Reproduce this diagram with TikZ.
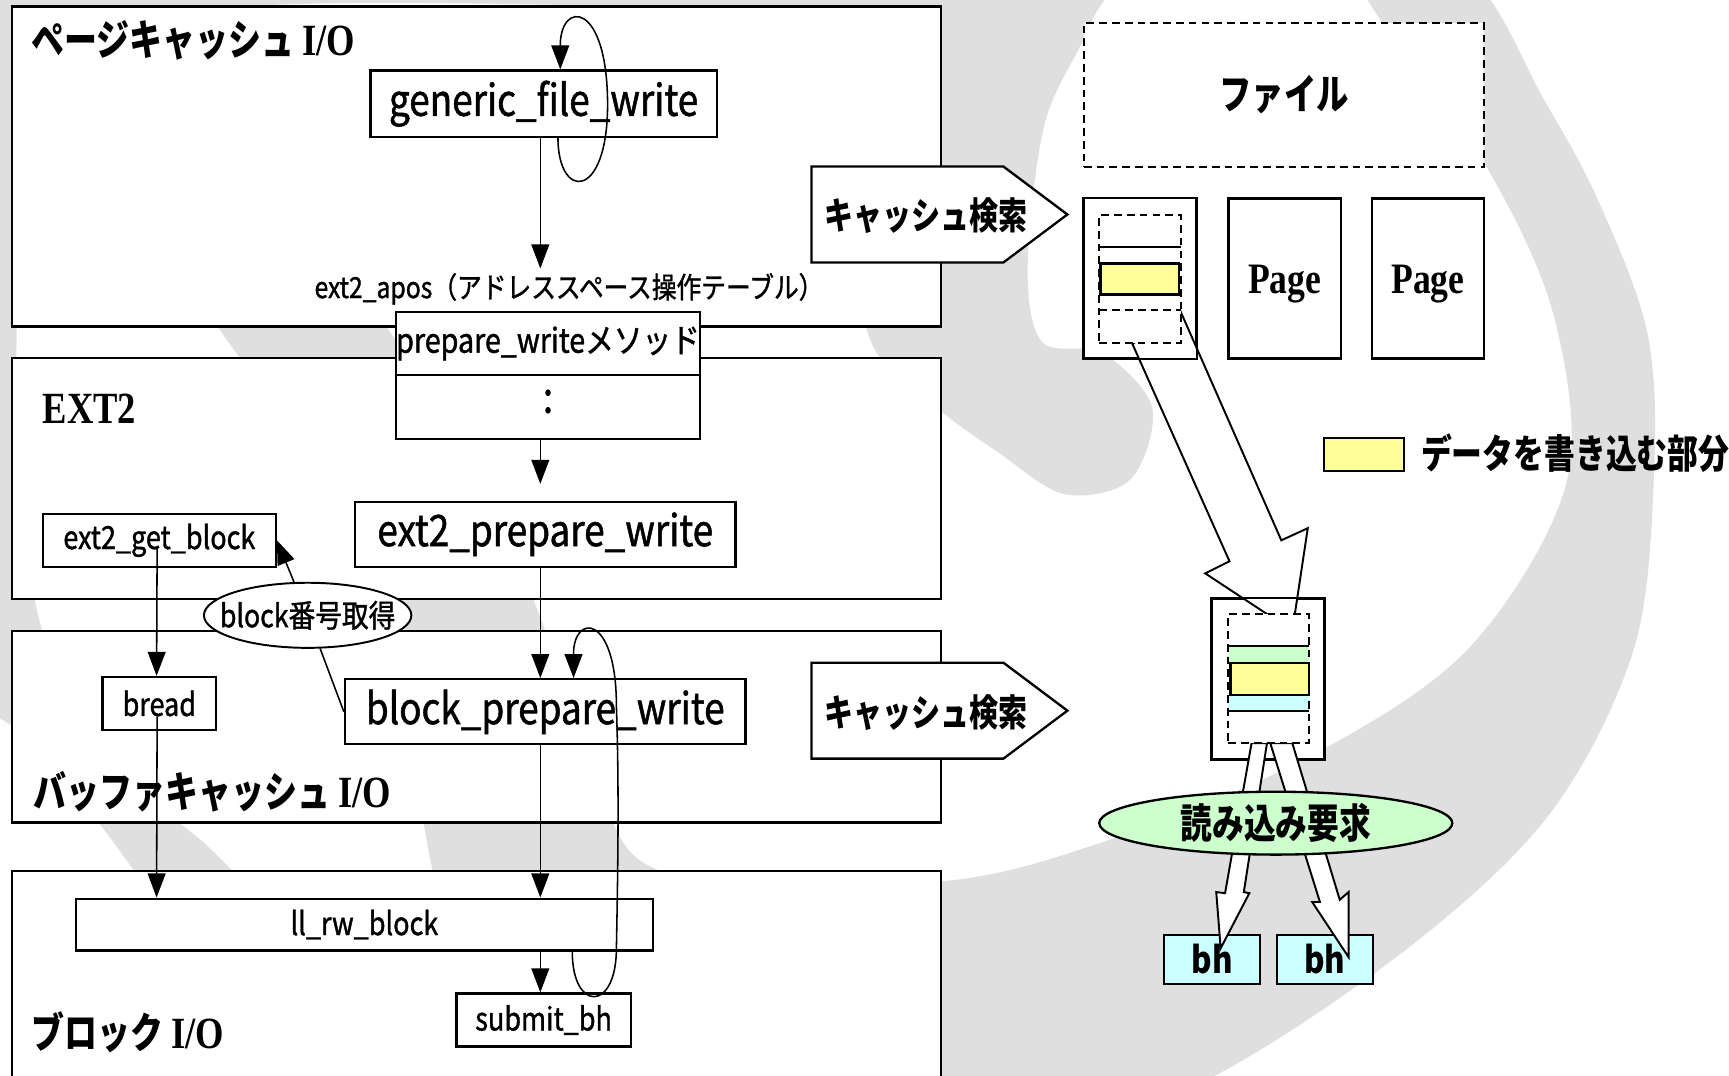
\documentclass[tikz,border=0pt]{standalone}
\usepackage{fontspec}
\setmainfont{Noto Sans CJK JP}[FakeStretch=0.85]
\newfontfamily\medfont{Noto Sans CJK JP}[FakeStretch=0.85,FakeBold=1.2]
\newfontfamily\headfont{Noto Sans CJK JP}[FakeStretch=0.78]
\newfontfamily\romfont{Liberation Serif}[FakeStretch=0.82]
\usepackage{tikz}
\usetikzlibrary{arrows.meta,calc,shapes.geometric}

\definecolor{wmgray}{RGB}{223,223,223}
\definecolor{memoyellow}{RGB}{255,255,153}
\definecolor{bhcyan}{RGB}{204,255,255}
\definecolor{reqgreen}{RGB}{204,255,204}

\begin{document}
\begin{tikzpicture}[x=0.01cm,y=-0.01cm,
          layer/.style={draw,fill=white,line width=0.6pt,inner sep=0pt,minimum width=8.42cm},
          box/.style={draw,fill=white,line width=0.6pt,inner sep=0pt},
          bigtxt/.style={font=\medfont\fontsize{11.2}{13}\selectfont},
          smalltxt/.style={font=\medfont\fontsize{8.2}{10}\selectfont},
          layertitle/.style={anchor=west,inner sep=0pt,font=\headfont\bfseries\fontsize{10.9}{12}\selectfont},
          arr/.style={line width=0.4pt,-{Triangle[length=6.2pt,width=4.6pt]}},
          dashbox/.style={draw,line width=0.5pt,dash pattern=on 2pt off 1.3pt,inner sep=0pt},
          blockarrow/.style={draw,fill=white,line width=0.5pt,line join=miter},
          marked/.style={draw,fill=memoyellow,line width=0.6pt,inner sep=0pt}]
          \useasboundingbox[fill=white] (0,0) rectangle (1568,975);
          \fill[wmgray] plot[smooth cycle,tension=0.55] coordinates {(1333,-20) (1400,90) (1449,181) (1494,302) (1500,430) (1481,591) (1400,745) (1250,880) (1050,1000) (800,1060) (560,980) (420,850) (383,740) (365,560) (290,420) (200,300) (130,180) (280,220) (360,310) (440,440) (490,560) (540,700) (600,790) (843,800) (996,765) (1180,690) (1330,590) (1420,440) (1410,290) (1348,151) (1232,-20)};
          \fill[wmgray] plot[smooth cycle,tension=0.55] coordinates {(760,-40) (1000,-40) (990,20) (948,110) (932,240) (945,310) (1000,320) (1045,370) (1025,435) (965,448) (905,410) (850,370) (790,310) (770,180)};
          \fill[wmgray] plot[smooth cycle,tension=0.55] coordinates {(-40,-40) (800,-40) (790,6) (200,8) (40,100) (15,310) (35,560) (110,700) (189,768) (300,880) (420,990) (300,1040) (122,790) (40,680) (-40,560)};

          \node[layer,minimum height=2.90cm] (pagecache) at (432,151) {};
          \node[layer,minimum height=2.18cm] (ext2layer) at (432,434) {};
          \node[layer,minimum height=1.74cm] (bufcache) at (432,659) {};
          \node[layer,minimum height=2.20cm] (blockio) at (432,900) {};
          \node[layertitle] (pctitle) at (28,37) {ページキャッシュ {\romfont\fontsize{11.5}{12}\selectfont I/O}};
          \node[layertitle] (e2title) at (38,371) {\romfont\fontsize{11.5}{12}\selectfont EXT2};
          \node[layertitle] (bctitle) at (30,718) {バッファキャッシュ {\romfont\fontsize{11.5}{12}\selectfont I/O}};
          \node[layertitle] (biotitle) at (28,936) {ブロック {\romfont\fontsize{11.5}{12}\selectfont I/O}};

          \coordinate (spine) at (490,0);
          \node[box,bigtxt,minimum width=3.14cm,minimum height=0.60cm] (gfw) at (493,94) {generic\_file\_write};
          \node[inner sep=1pt,font=\medfont\fontsize{7.5}{9}\selectfont] (apos) at (516,262) {ext2\_apos（アドレススペース操作テーブル）};
          \node[box,font=\medfont\fontsize{8.7}{10}\selectfont,minimum width=2.76cm,minimum height=0.57cm] (pwtop) at (497,311.5) {prepare\_writeメソッド};
          \node[box,bigtxt,minimum width=2.76cm,minimum height=0.58cm] (pwbot) at (497,369) {\raisebox{-1.5pt}[0pt][0pt]{:}};
          \node[box,bigtxt,minimum width=3.45cm,minimum height=0.59cm] (e2pw) at (494.5,484.5) {ext2\_prepare\_write};
          \node[box,smalltxt,minimum width=2.11cm,minimum height=0.48cm] (getblk) at (144.5,490) {ext2\_get\_block};
          \node[draw,fill=white,ellipse,line width=0.5pt,inner sep=0pt,minimum width=1.88cm,minimum height=0.59cm,font=\medfont\fontsize{8.1}{10}\selectfont] (blkno) at (279,558) {\makebox[0pt]{block番号取得}};
          \node[box,smalltxt,minimum width=1.03cm,minimum height=0.48cm] (bread) at (144.5,638) {bread};
          \node[box,bigtxt,minimum width=3.63cm,minimum height=0.59cm] (bpw) at (494.5,645.5) {block\_prepare\_write};
          \node[box,smalltxt,minimum width=5.23cm,minimum height=0.47cm] (llrw) at (330.5,838.5) {ll\_rw\_block};
          \node[box,smalltxt,minimum width=1.58cm,minimum height=0.48cm] (submit) at (493,925) {submit\_bh};

          \draw[arr] (gfw.south -| spine) -- (apos.north -| spine);
          \draw[arr] ([xshift=3.7pt]gfw.south) .. controls (506,182) and (551,182) .. (551,95) .. controls (551,0) and (508,0) .. ([xshift=4.3pt]gfw.north);
          \draw[arr,shorten >=4.3pt] (pwbot.south -| spine) -- (e2pw.north -| spine);
          \draw[arr] (e2pw.south -| spine) -- (bpw.north -| spine);
          \draw[arr] (bpw.south -| spine) -- (llrw.north -| spine);
          \draw[arr] (llrw.south -| spine) -- (submit.north -| spine);
          \draw[arr] ([xshift=53.6pt]llrw.south) .. controls (519,918) and (559,918) .. (559,860) .. controls (561,760) and (561,700) .. (559,640) .. controls (559,556) and (520,556) .. ([xshift=7.3pt]bpw.north);
          \draw[arr] (getblk.center) ++(-2,8) -- (bread.north -| 142,0);
          \draw[arr] (bread.center) ++(-2,12) -- (llrw.north -| 142,0);
          \draw[line width=0.4pt] (bpw.west) -- (blkno);
          \draw[arr] (blkno) -- (getblk.east);

          \draw[line width=0.6pt,fill=white] (736,151) -- (910,151) -- (968,194.5) -- (910,238) -- (736,238) -- cycle;
          \node[font=\headfont\bfseries\fontsize{9.6}{10}\selectfont] (search1) at (840,196) {キャッシュ検索};
          \draw[line width=0.6pt,fill=white] (736,601) -- (910,601) -- (968,644.5) -- (910,688) -- (736,688) -- cycle;
          \node[font=\headfont\bfseries\fontsize{9.6}{10}\selectfont] (search2) at (840,646) {キャッシュ検索};

          \node[dashbox,fill=white,minimum width=3.63cm,minimum height=1.30cm,font=\headfont\bfseries\fontsize{10.7}{12}\selectfont] (file) at (1164.5,86) {\raisebox{-1pt}{ファイル}};
          \node[box,line width=0.5pt,minimum width=1.02cm,minimum height=1.45cm] (page1) at (1034,252.5) {};
          \node[box,minimum width=1.02cm,minimum height=1.45cm,font=\romfont\bfseries\fontsize{11.2}{12}\selectfont] (page2) at (1165,252.5) {\raisebox{-3.8pt}[0pt][0pt]{Page}};
          \node[box,minimum width=1.02cm,minimum height=1.45cm,font=\romfont\bfseries\fontsize{11.2}{12}\selectfont] (page3) at (1295,252.5) {\raisebox{-3.8pt}[0pt][0pt]{Page}};
          \node[marked,minimum width=0.72cm,minimum height=0.30cm] (legendkey) at (1237,412) {};
          \node[anchor=west,inner sep=0pt,font=\headfont\bfseries\fontsize{10.2}{11}\selectfont] (legendtxt) at (1288,411) {データを書き込む部分};

          \node[draw,fill=bhcyan,line width=0.5pt,minimum width=0.87cm,minimum height=0.44cm,inner sep=0pt,font=\fontsize{9.5}{12}\selectfont\bfseries] (bh1) at (1099.5,870) {bh};
          \node[draw,fill=bhcyan,line width=0.5pt,minimum width=0.87cm,minimum height=0.44cm,inner sep=0pt,font=\fontsize{9.5}{12}\selectfont\bfseries] (bh2) at (1201.5,870) {bh};
          \node[box,line width=0.5pt,minimum width=1.02cm,minimum height=1.45cm] (bufpage) at (1150,615.5) {};

          \draw[blockarrow] (1027,312) -- (1115,509) -- (1093,520) -- (1172,572) -- (1186,479) -- (1162,490) -- (1070,281) -- cycle;
          \draw[line width=0.5pt] (page1.north west) rectangle (page1.south east);
          \draw[line width=0.5pt] (bufpage.north west) rectangle (bufpage.south east);
          \draw[blockarrow] (1135,674) -- (1111,810) -- (1103,809) -- (1107,860) -- (1133,810) -- (1128,809) -- (1149,674) -- cycle;
          \draw[blockarrow] (1152,674) -- (1197,818) -- (1190,818) -- (1223,868) -- (1223,809) -- (1215,816) -- (1172,674) -- cycle;

          \node[dashbox,fill=white,minimum width=0.74cm,minimum height=1.16cm] (slots1) at (1034,253) {};
          \draw[line width=0.5pt] (997,224) -- (1071,224);
          \draw[line width=0.5pt,dash pattern=on 2pt off 1.3pt] (997,281) -- (1071,281);
          \node[marked,minimum width=0.71cm,minimum height=0.28cm] (dirty1) at (1033.5,253) {};

          \node[dashbox,fill=white,minimum width=0.73cm,minimum height=1.17cm] (slots2) at (1150.5,615.5) {};
          \fill[reqgreen] (1114,586) rectangle (1187,601);
          \fill[bhcyan] (1114,630) rectangle (1187,645);
          \draw[line width=0.5pt] (1114,586) -- (1187,586);
          \draw[line width=0.5pt] (1114,645) -- (1187,645);
          \node[marked,minimum width=0.71cm,minimum height=0.29cm] (dirty2) at (1151.5,615.5) {};
          \node[dashbox,minimum width=0.73cm,minimum height=1.17cm] at (1150.5,615.5) {};

          \node[draw,fill=reqgreen,ellipse,line width=0.6pt,minimum width=3.20cm,minimum height=0.57cm,inner sep=0pt,font=\headfont\bfseries\fontsize{10.5}{11}\selectfont] (readreq) at (1157,746.5) {\makebox[0pt]{読み込み要求}};
        \end{tikzpicture}
\end{document}
